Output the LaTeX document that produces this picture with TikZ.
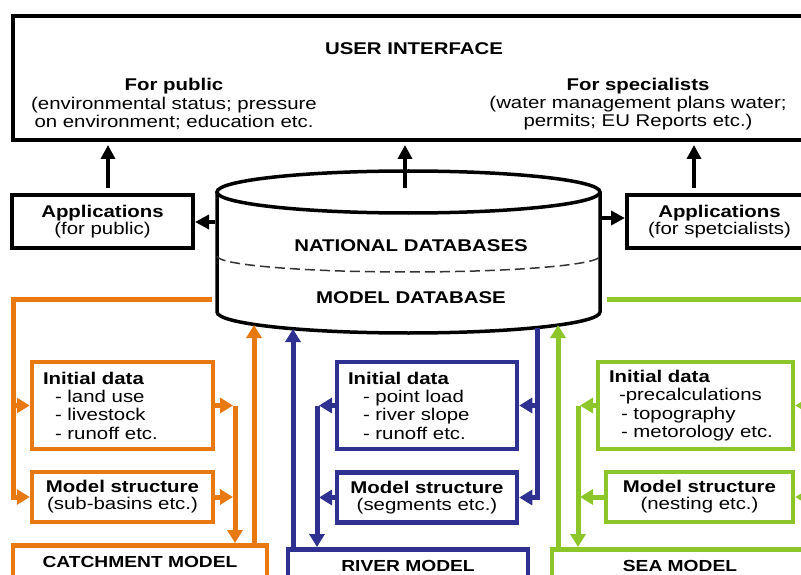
\documentclass[tikz,border=0pt]{standalone}
\usepackage{fontspec}
\setmainfont{Liberation Sans}[FakeStretch=1.2]
\usetikzlibrary{arrows.meta}

\definecolor{catchorange}{RGB}{232,120,16}
\definecolor{riverblue}{RGB}{46,49,146}
\definecolor{seagreen}{RGB}{141,198,40}

\begin{document}
\begin{tikzpicture}[x=1pt,y=-1pt,
    every node/.style={font=\fontsize{17}{18.3}\selectfont,inner sep=0pt},
    uibox/.style={draw,line width=4pt},
    appbox/.style={draw,line width=4pt,minimum height=53pt,align=center,font=\fontsize{17}{17}\selectfont},
    inibox/.style={draw,line width=4.5pt,minimum height=87pt,inner xsep=11pt,align=left},
    strbox/.style={draw,line width=4.5pt,minimum height=50pt,align=center,font=\fontsize{17}{17}\selectfont},
    modbox/.style={draw,line width=4.5pt,anchor=north,inner ysep=11pt,text depth=30pt,font=\fontsize{16}{16}\selectfont\bfseries},
    bigarrow/.style={line width=4pt,-{Triangle[length=14pt,width=14pt]}},
    flow/.style={line width=5pt,-{Triangle[length=13pt,width=15pt]}},
    plain/.style={line width=5pt}]
\useasboundingbox (0,0) rectangle (801,575);

% user interface
\node[uibox,minimum width=792pt,minimum height=124pt] (ui) at (409,78) {};
\node[font=\fontsize{17}{17}\selectfont\bfseries] (uititle) at (414,49) {USER INTERFACE};
\node[align=center] (forpub) at (174,104) {\textbf{For public}\\(environmental status; pressure\\on environment; education etc.};
\node[align=center] (forspec) at (638,104) {\textbf{For specialists}\\(water management plans water;\\permits; EU Reports etc.)};

\node[appbox,minimum width=181pt] (appL) at (102.5,221.5) {\textbf{Applications}\\(for public)};
\node[appbox,minimum width=185pt] (appR) at (719.5,221.5) {\textbf{Applications}\\(for spetcialists)};

% database cylinder
\draw[line width=3.5pt] (408.5,192) ellipse [x radius=191.5, y radius=21];
\draw[line width=3.5pt] (217,192) -- (217,312) arc[start angle=180,end angle=0,x radius=191.5,y radius=21] -- (600,192);
\draw[line width=1.5pt,dash pattern=on 10pt off 5pt,black!80] (217,256) arc[start angle=180,end angle=0,x radius=191.5,y radius=16];
\node[font=\fontsize{17}{17}\selectfont\bfseries] (natdb) at (411,246) {NATIONAL DATABASES};
\node[font=\fontsize{17}{17}\selectfont\bfseries] (moddb) at (411,298) {MODEL DATABASE};

\coordinate (cylW) at (215,222);
\coordinate (cylE) at (602,218);
\coordinate (upL) at (108,188);
\coordinate (upM) at (405,188);
\coordinate (upR) at (694,188);
\foreach \c in {upL,upM,upR}
  \draw[bigarrow,shorten >=3pt] (\c) -- (\c |- ui.south);
\draw[bigarrow] (cylW) -- (cylW -| appL.east);
\draw[bigarrow] (cylE) -- (cylE -| appR.west);

% catchment model
\node[inibox,draw=catchorange,text width=159pt] (ini1) at (122.5,405.5) {\textbf{Initial data}\\\hspace*{12pt}- land use\\\hspace*{12pt}- livestock\\\hspace*{12pt}- runoff etc.};
\node[strbox,draw=catchorange,minimum width=181pt] (ms1) at (122.5,497) {\textbf{Model structure}\\(sub-basins etc.)};
\node[modbox,draw=catchorange,minimum width=254pt] (catch) at (140,543) {CATCHMENT MODEL};
\coordinate (oout) at (212,299);
\coordinate (oleft) at (13,299);
\coordinate (ojoin) at (235,405.5);
\coordinate (oup) at (254,325);
\draw[flow,catchorange] (oout) -- (oleft) |- (ms1.west);
\draw[flow,catchorange] (oleft |- ini1.west) -- (ini1.west);
\draw[flow,catchorange,shorten >=2pt] (ini1.east) -- (ojoin);
\draw[flow,catchorange,shorten >=2pt] (ms1.east) -- (ms1.east -| ojoin);
\draw[flow,catchorange] (ojoin) -- (ojoin |- catch.north);
\draw[flow,catchorange] (oup |- catch.north) -- (oup);

% river model
\node[inibox,draw=riverblue,text width=158pt] (ini2) at (427,405.5) {\textbf{Initial data}\\\hspace*{15pt}- point load\\\hspace*{15pt}- river slope\\\hspace*{15pt}- runoff etc.};
\node[strbox,draw=riverblue,minimum width=180pt] (ms2) at (427,497.5) {\textbf{Model structure}\\(segments etc.)};
\node[modbox,draw=riverblue,minimum width=240pt] (river) at (408,547) {RIVER MODEL};
\coordinate (bout) at (537,328);
\coordinate (bjoin) at (317,405.5);
\coordinate (bup) at (293,329);
\draw[flow,riverblue] (bout) |- (ms2.east);
\draw[flow,riverblue] (bout |- ini2.east) -- (ini2.east);
\draw[flow,riverblue,shorten >=2pt] (ini2.west) -- (bjoin);
\draw[flow,riverblue,shorten >=2pt] (ms2.west) -- (ms2.west -| bjoin);
\draw[flow,riverblue] (bjoin) -- (bjoin |- river.north);
\draw[flow,riverblue] (bup |- river.north) -- (bup);

% sea model
\node[inibox,draw=seagreen,text width=173pt] (ini3) at (695.5,405.5) {\textbf{Initial data}\\\hspace*{10pt}-precalculations\\\hspace*{12pt}- topography\\\hspace*{12pt}- metorology etc.};
\node[strbox,draw=seagreen,minimum width=187pt] (ms3) at (699.5,497) {\textbf{Model structure}\\(nesting etc.)};
\node[modbox,draw=seagreen,minimum width=256pt] (sea) at (680,547) {SEA MODEL};
\coordinate (gout) at (607,299);
\coordinate (gright) at (815,299);
\coordinate (gjoin) at (578,405.5);
\coordinate (gup) at (558,325);
\draw[flow,seagreen] (gout) -- (gright) |- (ms3.east);
\draw[flow,seagreen] (gright |- ini3.east) -- (ini3.east);
\draw[flow,seagreen,shorten >=2pt] (ini3.west) -- (gjoin);
\draw[flow,seagreen,shorten >=2pt] (ms3.west) -- (ms3.west -| gjoin);
\draw[flow,seagreen] (gjoin) -- (gjoin |- sea.north);
\draw[flow,seagreen] (gup |- sea.north) -- (gup);
\end{tikzpicture}
\end{document}
